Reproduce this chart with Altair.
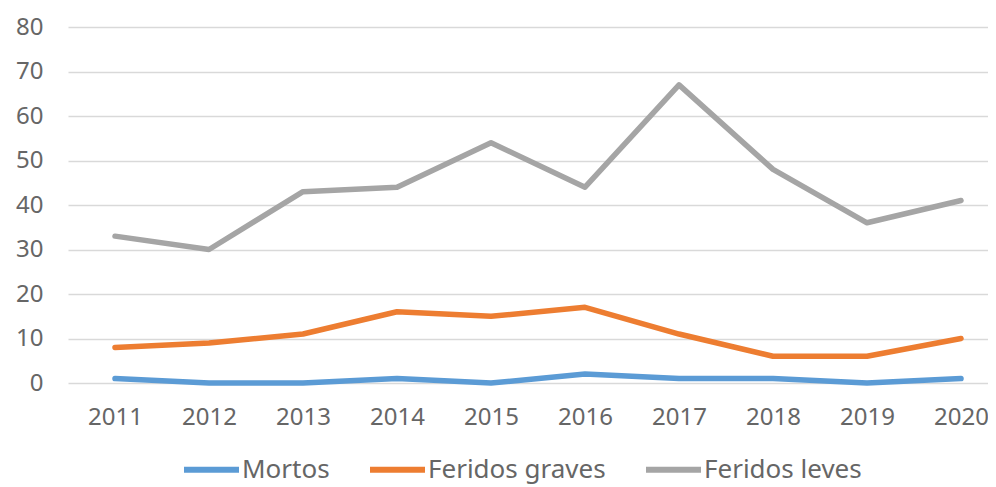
import altair as alt
import pandas as pd

years = [2011, 2012, 2013, 2014, 2015, 2016, 2017, 2018, 2019, 2020]
mortos = [1, 0, 0, 1, 0, 2, 1, 1, 0, 1]
feridos_graves = [8, 9, 11, 16, 15, 17, 11, 6, 6, 10]
feridos_leves = [33, 30, 43, 44, 54, 44, 67, 48, 36, 41]
series = ["Mortos", "Feridos graves", "Feridos leves"]
colors = ["#5B9BD5", "#ED7D31", "#A5A5A5"]

rows = []
for name, vals in zip(series, [mortos, feridos_graves, feridos_leves]):
    for y, v in zip(years, vals):
        rows.append({"Ano": y, "Valor": v, "Serie": name})
df = pd.DataFrame(rows)

FONT = "Noto Sans"
TXT = "#666666"

chart = alt.Chart(df).mark_line(strokeWidth=5.5, strokeCap="round", strokeJoin="round").encode(
    x=alt.X("Ano:Q",
            scale=alt.Scale(domain=[2010.5, 2020.287], nice=False, zero=False),
            axis=alt.Axis(values=years, format="d", title=None, grid=False, domain=False,
                          ticks=False, labelFontSize=24, labelColor=TXT, labelFont=FONT,
                          labelPadding=22, labelFlush=False)),
    y=alt.Y("Valor:Q",
            scale=alt.Scale(domain=[0, 80], nice=False),
            axis=alt.Axis(values=list(range(0, 81, 10)), title=None, domain=False, ticks=False,
                          labelFontSize=24, labelColor=TXT, labelFont=FONT, labelPadding=25,
                          gridColor="#D9D9D9", gridWidth=1.5)),
    color=alt.Color("Serie:N", sort=series,
                    scale=alt.Scale(domain=series, range=colors),
                    legend=alt.Legend(title=None, orient="none", direction="horizontal",
                                      legendX=113, legendY=412,
                                      symbolType="stroke", symbolSize=3025,
                                      symbolStrokeWidth=6, labelFontSize=26,
                                      labelColor=TXT, labelFont=FONT, labelOffset=0,
                                      labelLimit=400, columnPadding=28)),
    order=alt.Order("Ano:Q"),
).properties(
    width=920, height=356,
    autosize=alt.AutoSizeParams(type="none"),
    padding={"left": 60, "top": 19, "right": 0, "bottom": 104},
).configure_view(stroke=None)

chart.save("out.html", embed_options={"renderer": "svg", "actions": False})
